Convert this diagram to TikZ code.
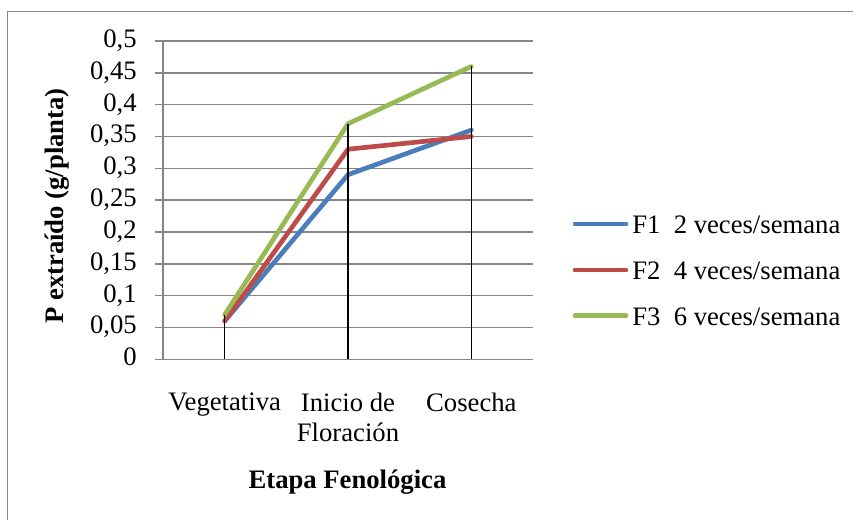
\documentclass[tikz,border=0pt]{standalone}
\usepackage{fontspec}
\setmainfont{Liberation Serif}
\usetikzlibrary{positioning}
\tikzset{>=latex}
\definecolor{gridgray}{RGB}{134,134,134}
\definecolor{serieA}{RGB}{74,126,187}
\definecolor{serieB}{RGB}{190,75,72}
\definecolor{serieC}{RGB}{152,185,84}
\begin{document}
\begin{tikzpicture}[x=0.75pt,y=0.75pt,
  every node/.style={font=\fontsize{20}{22.5}\selectfont,inner sep=0pt},
  gridline/.style={gridgray,line width=1.1pt},
  dropline/.style={black,line width=1pt},
  serie/.style={line width=3.5pt,line cap=round,line join=round},
  ticklabel/.style={anchor=base east,yshift=-4.8pt},
  catlabel/.style={anchor=north,align=center}]
\useasboundingbox (0,0) rectangle (853,520);
\draw[gridline,line width=1.2pt] (853,508.5) -- (7.5,508.5) -- (7.5,0);
\begin{scope}[shift={(163,160.7)},x=92.5pt,y=477.45pt]
  \foreach \v in {0,...,10}
    \draw[gridline] (-0.065,\v/20) -- (3,\v/20);
  \draw[gridline] (0,0) -- (0,0.5);
  \node[ticklabel] (t0) at (-0.211,0) {0};
  \node[ticklabel] (t1) at (-0.211,0.05) {0,05};
  \node[ticklabel] (t2) at (-0.211,0.1) {0,1};
  \node[ticklabel] (t3) at (-0.211,0.15) {0,15};
  \node[ticklabel] (t4) at (-0.211,0.2) {0,2};
  \node[ticklabel] (t5) at (-0.211,0.25) {0,25};
  \node[ticklabel] (t6) at (-0.211,0.3) {0,3};
  \node[ticklabel] (t7) at (-0.211,0.35) {0,35};
  \node[ticklabel] (t8) at (-0.211,0.4) {0,4};
  \node[ticklabel] (t9) at (-0.211,0.45) {0,45};
  \node[ticklabel] (t10) at (-0.211,0.5) {0,5};
  \coordinate (veg) at (0.5,0);
  \coordinate (ini) at (1.5,0);
  \coordinate (cos) at (2.5,0);
  \coordinate (f1veg) at (0.5,0.06);
  \coordinate (f1ini) at (1.5,0.29);
  \coordinate (f1cos) at (2.5,0.36);
  \coordinate (f2veg) at (0.5,0.06);
  \coordinate (f2ini) at (1.5,0.33);
  \coordinate (f2cos) at (2.5,0.35);
  \coordinate (f3veg) at (0.5,0.07);
  \coordinate (f3ini) at (1.5,0.37);
  \coordinate (f3cos) at (2.5,0.46);
  \draw[serie,serieA] (f1veg) -- (f1ini) -- (f1cos);
  \draw[serie,serieB] (f2veg) -- (f2ini) -- (f2cos);
  \draw[serie,serieC] (f3veg) -- (f3ini) -- (f3cos);
  \draw[dropline] (f3veg) -- (veg);
  \draw[dropline] (f3ini) -- (ini);
  \draw[dropline] (f3cos) -- (cos);
  \node[catlabel] (lveg) at (0.5,-0.052) {Vegetativa};
  \node[catlabel] (lini) at (1.5,-0.052) {Inicio de\\Floración};
  \node[catlabel] (lcos) at (2.5,-0.052) {Cosecha};
\end{scope}
\node[rotate=90,font=\fontsize{20}{22.5}\selectfont\bfseries] (ytitle) at (57.5,314) {P extraído (g/planta)};
\node[anchor=base,font=\fontsize{20}{22.5}\selectfont\bfseries] (xtitle) at (347.5,31) {Etapa Fenológica};
\coordinate (l1) at (575,296);
\coordinate (l2) at (575,250);
\coordinate (l3) at (575,204.3);
\draw[serie,serieA] (l1) -- ++(51,0) coordinate (l1e);
\draw[serie,serieB] (l2) -- ++(51,0) coordinate (l2e);
\draw[serie,serieC] (l3) -- ++(51,0) coordinate (l3e);
\node[anchor=base west] (legF1) at ([xshift=4.5pt,yshift=-7.5pt]l1e) {F1~~2 veces/semana};
\node[anchor=base west] (legF2) at ([xshift=4.5pt,yshift=-7.5pt]l2e) {F2~~4 veces/semana};
\node[anchor=base west] (legF3) at ([xshift=4.5pt,yshift=-7.5pt]l3e) {F3~~6 veces/semana};
\end{tikzpicture}
\end{document}
